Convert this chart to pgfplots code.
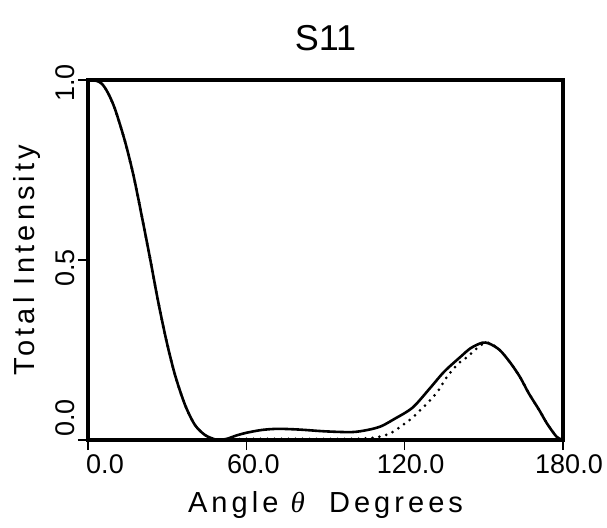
\documentclass[border=0pt]{standalone}
\usepackage{pgfplots}
\pgfplotsset{compat=1.18}
\usepackage{fontspec}
\setmainfont{Liberation Sans}
\newfontfamily\widefont[LetterSpace=14]{Liberation Sans}
\newfontfamily\thetafont{Liberation Serif}

% solid curve: S11 total intensity
\pgfplotstableread{
ang   I
0     1.000
3     0.998
5.2   0.990
7.5   0.965
10.2  0.920
14.0  0.830
17.2  0.736
20.3  0.625
23.5  0.505
26.6  0.384
29.8  0.273
33.0  0.180
36.8  0.097
40.5  0.042
44.3  0.014
48    0.002
50    0.000
53    0.004
56    0.012
60    0.020
66    0.028
72    0.031
80    0.029
90    0.024
100   0.022
106   0.028
111   0.038
116   0.058
123   0.090
129.6 0.144
135   0.190
141   0.230
145   0.255
149.3 0.270
152   0.268
156   0.250
160   0.215
163.7 0.175
167   0.130
171   0.083
174   0.045
177.7 0.008
180   0.000
}\solid

% dotted curve
\pgfplotstableread{
ang   I
0     1.000
3     0.998
5.2   0.990
7.5   0.965
10.2  0.920
14.0  0.830
17.2  0.736
20.3  0.625
23.5  0.505
26.6  0.384
29.8  0.273
33.0  0.180
36.8  0.097
40.5  0.042
44.3  0.014
48    0.002
52    0.000
60    0.003
80    0.003
100   0.003
108   0.006
112   0.012
115   0.020
118   0.035
122   0.056
125.5 0.080
129.6 0.110
133   0.140
136   0.175
140   0.210
143.6 0.230
147.4 0.255
150.4 0.270
153   0.266
156   0.250
160   0.215
163.7 0.175
167   0.130
171   0.083
174   0.045
177.7 0.008
180   0.000
}\dotted

\begin{document}
\begin{tikzpicture}
\useasboundingbox (-88pt,-87pt) rectangle (519pt,440pt);
\begin{axis}[
  at={(0,0)}, anchor=south west,
  scale only axis, width=475pt, height=360pt,
  xmin=0, xmax=180, ymin=0, ymax=1,
  axis line style={line width=3.2pt},
  xtick={0,60,120,180},
  xticklabels={\hspace*{34pt}0.0,\hspace*{14pt}60.0,\hspace*{12pt}120.0,\hspace*{12pt}180.0},
  ytick={0,0.5,1},
  yticklabels={\hspace*{54pt}0.0,\hspace*{-6pt}0.5,\hspace*{4pt}1.0},
  tick align=outside, tick pos=left,
  major tick length=10pt,
  tick style={line width=1.6pt, black},
  xticklabel style={font=\fontsize{27}{27}\selectfont, yshift=-1pt},
  yticklabel style={font=\fontsize{27}{27}\selectfont, rotate=90, anchor=south, xshift=-5pt},
  title={S11},
  title style={font=\fontsize{36}{36}\selectfont, at={(axis description cs:0.5,1)}, anchor=south, yshift=20pt},
  xlabel={Angle {\thetafont\itshape θ}\ \ Degrees},
  xlabel style={font=\fontsize{29}{29}\selectfont\widefont, at={(axis description cs:0.5,0)}, anchor=center, yshift=-65pt},
  ylabel={Total Intensity},
  ylabel style={font=\fontsize{29}{29}\selectfont\widefont, at={(axis description cs:-0.128,0.5)}, anchor=center},
]
\addplot[black, line width=2.6pt, smooth] table[x=ang, y=I] {\solid};
\addplot[black, line width=3pt, smooth, line cap=round, dash pattern=on 0pt off 7pt] table[x=ang, y=I] {\dotted};
\end{axis}
\end{tikzpicture}
\end{document}
